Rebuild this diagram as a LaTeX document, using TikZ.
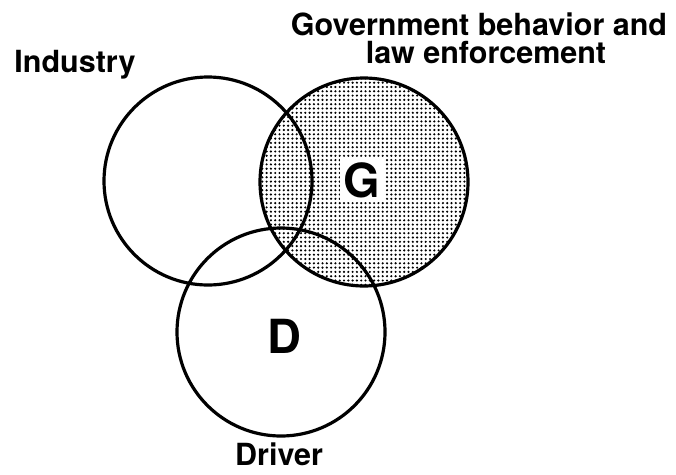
\documentclass[tikz,border=0pt]{standalone}
\usepackage{fontspec}
\setmainfont{TeX Gyre Heros}
\usetikzlibrary{patterns.meta}

\tikzset{
    venn/.style={draw, line width=3.2pt, circle, minimum size=208pt, inner sep=0pt},
    shaded/.style={pattern={Dots[radius=1.2pt, distance=4.3pt]}},
    setname/.style={font=\fontsize{30.5}{30}\selectfont\bfseries, inner sep=0pt},
    letter/.style={font=\fontsize{47}{47}\selectfont\bfseries, fill=white, inner sep=4pt}
}

\begin{document}
\begin{tikzpicture}[x=1pt, y=-1pt]
    % page frame, y grows downwards
    \useasboundingbox (0,0) rectangle (676,474);

    % dotted disc for the government set
    \fill[shaded] (364,182) circle (104);

    % the three sets
    \node[venn] (ind) at (208,181) {};
    \node[venn] (gov) at (364,182) {};
    \node[venn] (drv) at (281,332) {};

    % letters inside the sets
    \node[letter] (gl) at (362,180) {G};
    \node[letter] (dl) at (284,336) {D};

    % names of the sets
    \node[setname, anchor=base] (indname) at (75,72) {Industry};
    \node[setname, anchor=base] (govname) at (479,35) {Government behavior and};
    \node[setname, anchor=base] (govname2) at (486,63) {law enforcement};
    \node[setname, anchor=base] (drvname) at (279,465) {Driver};
\end{tikzpicture}
\end{document}
